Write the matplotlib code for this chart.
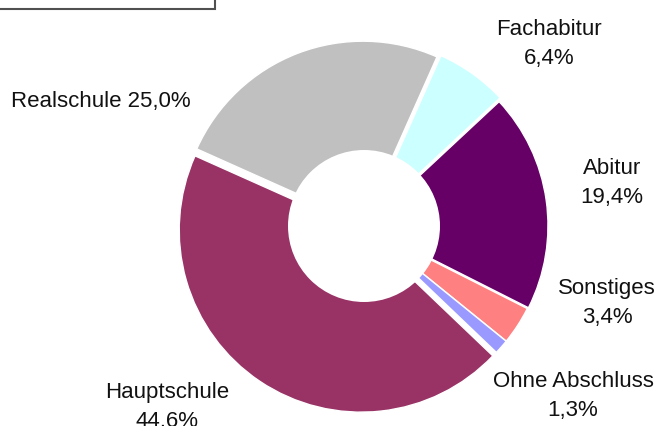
import matplotlib
matplotlib.use("Agg")
import matplotlib.pyplot as plt
from matplotlib.patches import Circle, Rectangle

plt.rcParams['font.family'] = ['Liberation Sans', 'DejaVu Sans']

categories = ["Fachabitur", "Abitur", "Sonstiges", "Ohne Abschluss", "Hauptschule", "Realschule"]
values = [6.4, 19.4, 3.4, 1.3, 44.6, 25.0]
colors = ["#CCFFFF", "#660066", "#FF8080", "#9999FF", "#993366", "#C0C0C0"]
explode = [5, 2, 1, 1, 5, 3]

W, H = 660, 426
fig = plt.figure(figsize=(W / 100, H / 100), dpi=100)
ax = fig.add_axes([0, 0, 1, 1])

cx, cy = 364, H - 226
R = 182
hole = 76

ax.pie(values, colors=colors, startangle=66, counterclock=False, radius=R,
       center=(cx, cy), explode=explode,
       wedgeprops=dict(edgecolor='white', linewidth=1.0))
ax.add_patch(Circle((cx, cy), hole, facecolor='white', edgecolor='none', zorder=5))

def fmt(v):
    return f"{v:.1f}".replace('.', ',') + '%'

# label placements (pixel coords of last-line baseline)
label_pos = {
    "Fachabitur": (549, 64, 'center', True),
    "Abitur": (612, 203, 'center', True),
    "Sonstiges": (607, 323, 'center', True),
    "Ohne Abschluss": (573, 416, 'center', True),
    "Hauptschule": (167, 427, 'center', True),
    "Realschule": (11, 107, 'left', False),
}
fs = 16
for cat, v in zip(categories, values):
    x, yb, ha, two = label_pos[cat]
    txt = f"{cat}\n{fmt(v)}" if two else f"{cat} {fmt(v)}"
    ax.text(x, H - yb, txt, ha=ha, va='baseline', fontsize=fs, color='#111111',
            linespacing=1.5, multialignment='center', zorder=10)

# partial title box at top left
ax.add_patch(Rectangle((-5, H - 9), 220, 30, facecolor='white', edgecolor='#505050',
                       linewidth=1.5, zorder=10, clip_on=False))

ax.set_xlim(0, W)
ax.set_ylim(0, H)
ax.set_aspect('auto')
ax.axis('off')

fig.savefig("out.png", dpi=100)
